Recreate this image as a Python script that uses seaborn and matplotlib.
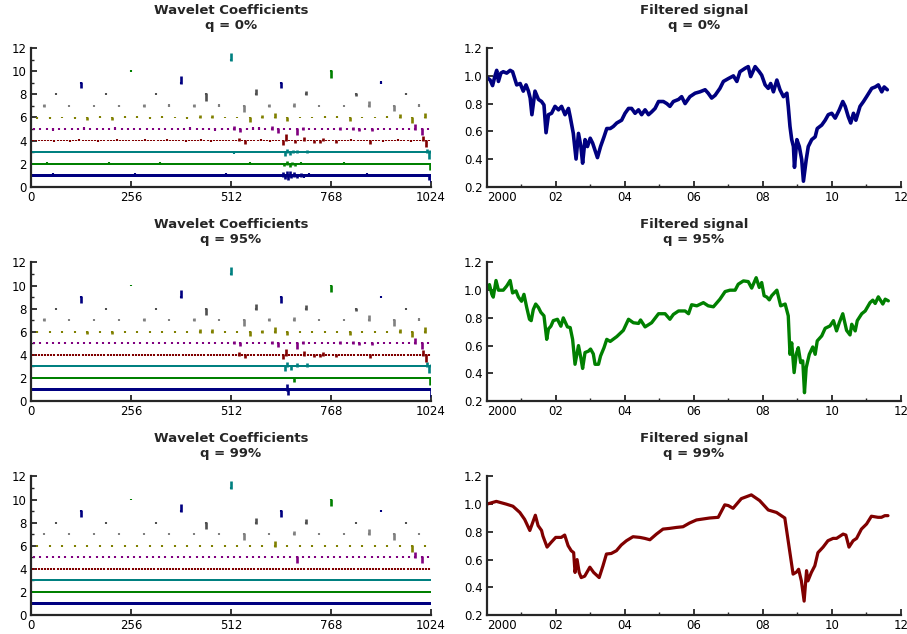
import numpy as np
import pandas as pd
import matplotlib
matplotlib.use("Agg")
import matplotlib.pyplot as plt
import seaborn as sns
from matplotlib.ticker import MultipleLocator

# ---------------- data ----------------
quantiles = ["0%", "95%", "99%"]
level_colors = ["#000080", "#008000", "#008080", "#800000", "#800080",
                "#808000", "#808080", "#505050", "#000080", "#008000", "#008080"]
signal_colors = ["#000080", "#008000", "#800000"]

# wavelet coefficients: (level, position, value); all other coefficients are zero
coef_q0 = [
    (1, 56, 0.05), (1, 267, 0.05), (1, 500, 0.05), (1, 610, -0.05), (1, 645, 0.15),
    (1, 650, -0.2), (1, 655, 0.25), (1, 658, -0.25), (1, 662, 0.2), (1, 666, -0.15),
    (1, 672, 0.12), (1, 680, -0.1), (1, 690, 0.1), (1, 700, -0.08), (1, 712, 0.06),
    (1, 860, 0.05), (1, 1020, -0.3), (1, 1023, -0.45),
    (2, 40, 0.05), (2, 90, -0.04), (2, 200, 0.04), (2, 330, 0.05), (2, 470, -0.04),
    (2, 560, 0.05), (2, 648, -0.15), (2, 656, 0.15), (2, 662, -0.2), (2, 668, 0.1),
    (2, 676, -0.15), (2, 690, 0.08), (2, 800, 0.05), (2, 900, -0.05), (2, 1021, -0.45),
    (3, 60, 0.05), (3, 130, -0.04), (3, 250, 0.05), (3, 380, 0.04), (3, 520, -0.05),
    (3, 650, -0.3), (3, 655, 0.2), (3, 662, -0.2), (3, 670, 0.1), (3, 682, 0.12),
    (3, 706, 0.1), (3, 830, 0.05), (3, 950, -0.04), (3, 1014, 0.2), (3, 1018, -0.5),
    (3, 1022, 0.1),
    (4, 60, -0.08), (4, 100, -0.08), (4, 124, 0.08), (4, 172, -0.08), (4, 220, 0.05),
    (4, 292, 0.08), (4, 348, 0.08), (4, 396, -0.06), (4, 436, 0.06), (4, 460, -0.05),
    (4, 532, 0.15), (4, 548, -0.2), (4, 588, 0.06), (4, 612, -0.08), (4, 644, -0.3),
    (4, 652, 0.45), (4, 676, -0.1), (4, 700, 0.25), (4, 724, -0.12), (4, 740, -0.15),
    (4, 748, 0.12), (4, 780, -0.15), (4, 820, 0.06), (4, 868, -0.2), (4, 900, -0.06),
    (4, 940, 0.05), (4, 972, -0.06), (4, 1004, 0.35), (4, 1012, -0.5),
    (5, 56, -0.06), (5, 136, 0.05), (5, 216, 0.05), (5, 408, 0.05), (5, 440, -0.05),
    (5, 472, -0.08), (5, 488, -0.05), (5, 520, 0.15), (5, 536, -0.15), (5, 552, -0.05),
    (5, 568, 0.05), (5, 584, 0.05), (5, 616, 0.15), (5, 632, -0.25), (5, 680, -0.45),
    (5, 696, 0.1), (5, 792, 0.1), (5, 824, 0.1), (5, 840, -0.1), (5, 872, -0.1),
    (5, 984, 0.35), (5, 1000, -0.4),
    (6, 16, -0.05), (6, 48, -0.05), (6, 112, -0.05), (6, 144, -0.1), (6, 176, 0.05),
    (6, 208, -0.1), (6, 240, 0.05), (6, 272, 0.05), (6, 304, -0.05), (6, 336, 0.05),
    (6, 400, -0.05), (6, 432, 0.12), (6, 464, 0.12), (6, 560, -0.3), (6, 592, 0.1),
    (6, 624, 0.3), (6, 656, -0.2), (6, 752, 0.05), (6, 784, 0.05), (6, 816, -0.2),
    (6, 912, 0.05), (6, 944, 0.2), (6, 976, -0.4), (6, 1008, 0.3),
    (7, 32, 0.1), (7, 224, -0.05), (7, 288, 0.12), (7, 352, 0.05), (7, 416, 0.1),
    (7, 480, 0.05), (7, 544, -0.45), (7, 608, 0.1), (7, 672, 0.2), (7, 864, 0.35),
    (7, 928, -0.4), (7, 992, 0.08),
    (8, 448, -0.5), (8, 576, 0.35), (8, 704, 0.25), (8, 832, -0.1), (8, 960, 0.05),
    (9, 128, -0.4), (9, 384, 0.55), (9, 640, -0.4), (9, 896, 0.05),
    (10, 768, -0.5),
    (11, 512, 0.5),
]

coef_q95 = [
    (1, 655, 0.35), (1, 658, -0.35), (1, 1023, -0.5),
    (2, 673, -0.3), (2, 1021, -0.5),
    (3, 650, -0.3), (3, 655, 0.3), (3, 665, -0.25), (3, 681, 0.2), (3, 706, 0.2),
    (3, 1014, 0.3), (3, 1020, -0.5), (3, 1023, 0.15),
    (4, 532, 0.2), (4, 548, -0.2), (4, 644, -0.3), (4, 652, 0.45), (4, 700, 0.25),
    (4, 724, -0.1), (4, 740, -0.15), (4, 748, 0.15), (4, 780, -0.15), (4, 868, -0.2),
    (4, 1004, 0.35), (4, 1012, -0.5),
    (5, 520, 0.15), (5, 536, -0.15), (5, 616, 0.15), (5, 632, -0.25), (5, 680, -0.45),
    (5, 696, 0.1), (5, 792, 0.1), (5, 824, 0.1), (5, 840, -0.1), (5, 872, -0.1),
    (5, 984, 0.35), (5, 1000, -0.4),
    (6, 16, -0.05), (6, 144, -0.1), (6, 208, -0.1), (6, 432, 0.12), (6, 464, 0.12),
    (6, 560, -0.3), (6, 592, 0.1), (6, 624, 0.3), (6, 656, -0.2), (6, 816, -0.2),
    (6, 944, 0.2), (6, 976, -0.4), (6, 1008, 0.3),
    (7, 32, 0.1), (7, 288, 0.12), (7, 416, 0.1), (7, 544, -0.45), (7, 608, 0.1),
    (7, 672, 0.2), (7, 864, 0.35), (7, 928, -0.4), (7, 992, 0.08),
    (8, 448, -0.5), (8, 576, 0.35), (8, 704, 0.25), (8, 832, -0.1),
    (9, 128, -0.4), (9, 384, 0.55), (9, 640, -0.4),
    (10, 768, -0.5),
    (11, 512, 0.5),
]

coef_q99 = [
    (5, 680, -0.45), (5, 984, 0.4), (5, 1000, -0.4),
    (6, 624, 0.35), (6, 976, -0.45),
    (7, 544, -0.45), (7, 672, 0.2), (7, 864, 0.35), (7, 928, -0.4),
    (8, 448, -0.5), (8, 576, 0.35), (8, 704, 0.2),
    (9, 128, -0.4), (9, 384, 0.55), (9, 640, -0.4),
    (10, 768, -0.5),
    (11, 512, 0.5),
]

# filtered signals (decimal year, value)
year_q0 = [2000.00, 2000.10, 2000.17, 2000.24, 2000.29, 2000.34, 2000.41, 2000.48,
           2000.58, 2000.68, 2000.75, 2000.87, 2000.97, 2001.06, 2001.14, 2001.21,
           2001.26, 2001.31, 2001.40, 2001.50, 2001.59, 2001.66, 2001.72, 2001.79,
           2001.88, 2001.98, 2002.08, 2002.17, 2002.27, 2002.37, 2002.42, 2002.51,
           2002.59, 2002.66, 2002.73, 2002.78, 2002.85, 2002.92, 2003.00, 2003.07,
           2003.17, 2003.21, 2003.30, 2003.40, 2003.48, 2003.58, 2003.67, 2003.77,
           2003.91, 2004.01, 2004.11, 2004.20, 2004.30, 2004.40, 2004.49, 2004.59,
           2004.69, 2004.78, 2004.88, 2004.98, 2005.12, 2005.22, 2005.31, 2005.41,
           2005.56, 2005.65, 2005.75, 2005.89, 2006.04, 2006.18, 2006.33, 2006.42,
           2006.52, 2006.62, 2006.76, 2006.86, 2007.00, 2007.15, 2007.25, 2007.34,
           2007.49, 2007.58, 2007.65, 2007.78, 2007.90, 2007.97, 2008.07, 2008.16,
           2008.23, 2008.31, 2008.41, 2008.50, 2008.60, 2008.70, 2008.74, 2008.79,
           2008.84, 2008.89, 2008.92, 2008.99, 2009.06, 2009.13, 2009.18, 2009.26,
           2009.32, 2009.42, 2009.52, 2009.58, 2009.71, 2009.81, 2009.90, 2010.00,
           2010.10, 2010.22, 2010.32, 2010.39, 2010.48, 2010.55, 2010.63, 2010.70,
           2010.82, 2010.92, 2011.01, 2011.16, 2011.26, 2011.35, 2011.45, 2011.52,
           2011.61]
value_q0 = [0.99, 0.97, 0.93, 1.00, 1.04, 0.96, 1.02, 1.03,
            1.02, 1.04, 1.03, 0.935, 0.945, 0.89, 0.935, 0.89,
            0.84, 0.72, 0.89, 0.83, 0.815, 0.79, 0.59, 0.72,
            0.73, 0.78, 0.755, 0.78, 0.72, 0.765, 0.705, 0.585,
            0.40, 0.585, 0.49, 0.37, 0.54, 0.49, 0.55, 0.515,
            0.44, 0.41, 0.49, 0.56, 0.62, 0.62, 0.635, 0.66,
            0.68, 0.73, 0.765, 0.765, 0.73, 0.755, 0.72, 0.755,
            0.72, 0.74, 0.765, 0.815, 0.815, 0.80, 0.78, 0.815,
            0.83, 0.85, 0.80, 0.85, 0.875, 0.885, 0.90, 0.875,
            0.84, 0.86, 0.91, 0.96, 0.98, 1.00, 0.96, 1.03,
            1.055, 1.067, 0.995, 1.067, 1.03, 1.005, 0.935, 0.91,
            0.945, 0.885, 0.97, 0.90, 0.85, 0.875, 0.78, 0.635,
            0.54, 0.49, 0.34, 0.54, 0.49, 0.395, 0.24, 0.395,
            0.49, 0.54, 0.56, 0.62, 0.645, 0.68, 0.72, 0.73,
            0.695, 0.755, 0.815, 0.78, 0.705, 0.66, 0.73, 0.68,
            0.78, 0.815, 0.85, 0.91, 0.92, 0.935, 0.885, 0.92,
            0.90]

year_q95 = [2000.00, 2000.08, 2000.15, 2000.19, 2000.27, 2000.34, 2000.48, 2000.58,
            2000.68, 2000.75, 2000.85, 2000.92, 2001.01, 2001.08, 2001.16, 2001.24,
            2001.29, 2001.35, 2001.42, 2001.50, 2001.57, 2001.66, 2001.74, 2001.79,
            2001.86, 2001.93, 2002.05, 2002.15, 2002.22, 2002.34, 2002.42, 2002.49,
            2002.56, 2002.66, 2002.73, 2002.78, 2002.85, 2002.95, 2003.01, 2003.09,
            2003.14, 2003.24, 2003.30, 2003.40, 2003.48, 2003.58, 2003.77, 2003.96,
            2004.11, 2004.25, 2004.40, 2004.46, 2004.59, 2004.78, 2004.98, 2005.17,
            2005.31, 2005.41, 2005.56, 2005.75, 2005.85, 2005.94, 2006.09, 2006.28,
            2006.42, 2006.57, 2006.76, 2006.91, 2007.05, 2007.20, 2007.29, 2007.44,
            2007.58, 2007.68, 2007.81, 2007.90, 2007.97, 2008.04, 2008.12, 2008.19,
            2008.26, 2008.41, 2008.52, 2008.65, 2008.74, 2008.79, 2008.84, 2008.91,
            2008.97, 2009.03, 2009.10, 2009.16, 2009.21, 2009.26, 2009.35, 2009.45,
            2009.52, 2009.58, 2009.71, 2009.81, 2009.95, 2010.05, 2010.14, 2010.22,
            2010.32, 2010.43, 2010.53, 2010.58, 2010.68, 2010.74, 2010.87, 2010.97,
            2011.11, 2011.19, 2011.26, 2011.35, 2011.48, 2011.55, 2011.64]
value_q95 = [1.007, 1.04, 0.97, 0.95, 1.07, 1.00, 1.00, 1.03,
             1.07, 0.98, 0.995, 0.95, 0.92, 0.97, 0.875, 0.79,
             0.78, 0.86, 0.90, 0.875, 0.84, 0.815, 0.645, 0.72,
             0.74, 0.78, 0.79, 0.74, 0.80, 0.735, 0.73, 0.645,
             0.465, 0.60, 0.51, 0.435, 0.55, 0.56, 0.575, 0.54,
             0.465, 0.465, 0.525, 0.585, 0.645, 0.63, 0.665, 0.71,
             0.79, 0.765, 0.76, 0.785, 0.735, 0.765, 0.83, 0.83,
             0.79, 0.825, 0.85, 0.85, 0.83, 0.895, 0.887, 0.91,
             0.887, 0.88, 0.935, 0.99, 1.00, 1.00, 1.043, 1.067,
             1.062, 1.015, 1.09, 1.02, 1.055, 0.96, 0.95, 0.93,
             0.96, 1.00, 0.887, 0.90, 0.815, 0.537, 0.62, 0.405,
             0.537, 0.585, 0.477, 0.49, 0.26, 0.44, 0.537, 0.59,
             0.537, 0.634, 0.67, 0.725, 0.742, 0.78, 0.706, 0.766,
             0.83, 0.71, 0.677, 0.754, 0.706, 0.78, 0.83, 0.85,
             0.91, 0.928, 0.904, 0.952, 0.90, 0.935, 0.923]

year_q99 = [2000.00, 2000.28, 2000.57, 2000.76, 2000.96, 2001.10, 2001.25, 2001.41,
            2001.49, 2001.59, 2001.63, 2001.75, 2001.87, 2002.00, 2002.16, 2002.26,
            2002.36, 2002.45, 2002.52, 2002.56, 2002.62, 2002.68, 2002.74, 2002.84,
            2002.99, 2003.10, 2003.26, 2003.37, 2003.47, 2003.61, 2003.76, 2003.90,
            2004.05, 2004.24, 2004.44, 2004.58, 2004.73, 2004.92, 2005.11, 2005.30,
            2005.50, 2005.69, 2005.88, 2006.08, 2006.27, 2006.46, 2006.71, 2006.90,
            2007.00, 2007.14, 2007.38, 2007.67, 2007.91, 2008.16, 2008.40, 2008.64,
            2008.88, 2008.98, 2009.04, 2009.12, 2009.20, 2009.27, 2009.31, 2009.41,
            2009.51, 2009.60, 2009.75, 2009.89, 2010.04, 2010.14, 2010.33, 2010.41,
            2010.50, 2010.62, 2010.72, 2010.86, 2011.01, 2011.15, 2011.34, 2011.44,
            2011.54, 2011.63]
value_q99 = [1.00, 1.02, 1.00, 0.985, 0.94, 0.89, 0.81, 0.92,
             0.845, 0.81, 0.77, 0.69, 0.725, 0.76, 0.76, 0.777,
             0.70, 0.664, 0.65, 0.507, 0.60, 0.507, 0.47, 0.48,
             0.545, 0.507, 0.47, 0.555, 0.64, 0.644, 0.664, 0.705,
             0.736, 0.765, 0.76, 0.753, 0.743, 0.784, 0.82, 0.825,
             0.832, 0.837, 0.864, 0.886, 0.893, 0.90, 0.905, 0.995,
             0.99, 0.97, 1.04, 1.067, 1.026, 0.958, 0.94, 0.90,
             0.495, 0.51, 0.53, 0.446, 0.30, 0.52, 0.446, 0.507,
             0.555, 0.65, 0.69, 0.736, 0.753, 0.753, 0.784, 0.777,
             0.69, 0.736, 0.753, 0.82, 0.857, 0.913, 0.905, 0.905,
             0.917, 0.917]

coef_sets = [coef_q0, coef_q95, coef_q99]
signal_sets = [(year_q0, value_q0), (year_q95, value_q95), (year_q99, value_q99)]
signal_widths = [2.6, 2.4, 2.3]

# ---------------- style ----------------
sns.set_style("ticks")
plt.rcParams['font.family'] = ['DejaVu Sans']
plt.rcParams['axes.linewidth'] = 1.6

fig = plt.figure(figsize=(9.07, 6.34), dpi=100)

left_x, left_w = 0.0342, 0.441
right_x, right_w = 0.5366, 0.4565
row_bottoms = [0.7055, 0.3675, 0.0300]
row_h = 0.2185


def styleAxis(ax):
    sns.despine(ax=ax)
    ax.tick_params(which="major", direction="in", length=4, width=1.1,
                   labelsize=8.5, pad=3, colors="black")
    ax.tick_params(which="minor", direction="in", length=2.5, width=1.0)


def setTitle(ax, name, q):
    ax.set_title(name + "\nq = " + q, fontsize=9.5, fontweight="bold",
                 pad=14, linespacing=1.2)


def plotCoefficients(ax, coefs, q):
    for lev in range(1, 12):
        step = 2 ** (lev - 1)
        pos = np.arange(step / 2, 1024, step)
        h = 0.13 if lev == 1 else 0.08
        ax.vlines(pos, lev - h, lev + h, color=level_colors[lev - 1], lw=1.5)
    for lev, x, c in coefs:
        h = 0.13 if lev == 1 else 0.08
        lo = min(lev, lev + c) - h
        hi = max(lev, lev + c) + h
        ax.vlines(x, lo, hi, color=level_colors[lev - 1],
                  lw=1.5 if abs(c) < 0.1 else 1.9)
    ax.set_xlim(0, 1024)
    ax.set_ylim(0, 12)
    ax.set_xticks([0, 256, 512, 768, 1024])
    ax.set_yticks(range(0, 13, 2))
    ax.yaxis.set_minor_locator(MultipleLocator(1))
    styleAxis(ax)
    setTitle(ax, "Wavelet Coefficients", q)


def plotSignal(ax, years, values, color, width, q):
    df = pd.DataFrame({"year": years, "value": values})
    sns.lineplot(data=df, x="year", y="value", ax=ax, color=color, lw=width,
                 sort=False)
    ax.set_xlim(2000, 2012)
    ax.set_ylim(0.2, 1.2)
    ax.set_xticks(range(2000, 2013, 2))
    ax.set_xticklabels(["2000", "02", "04", "06", "08", "10", "12"])
    ax.get_xticklabels()[0].set_horizontalalignment("left")
    ax.xaxis.set_minor_locator(MultipleLocator(1))
    ax.set_yticks(np.arange(0.2, 1.21, 0.2))
    ax.set_yticklabels(["0.2", "0.4", "0.6", "0.8", "1.0", "1.2"])
    ax.set_xlabel("")
    ax.set_ylabel("")
    styleAxis(ax)
    setTitle(ax, "Filtered signal", q)


for i, q in enumerate(quantiles):
    axl = fig.add_axes([left_x, row_bottoms[i], left_w, row_h])
    plotCoefficients(axl, coef_sets[i], q)
    axr = fig.add_axes([right_x, row_bottoms[i], right_w, row_h])
    plotSignal(axr, signal_sets[i][0], signal_sets[i][1], signal_colors[i],
               signal_widths[i], q)

fig.savefig("out.png", dpi=100)
